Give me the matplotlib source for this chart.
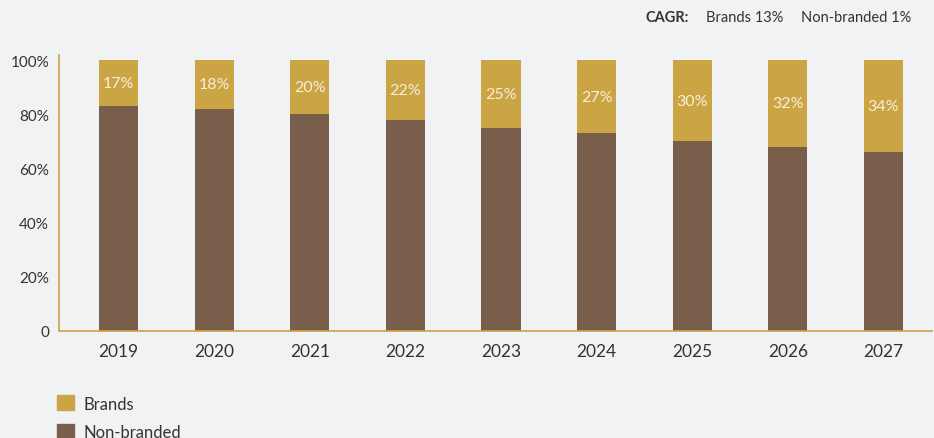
import matplotlib.pyplot as plt
from matplotlib.patches import Patch

plt.rcParams['font.family'] = ['Lato', 'DejaVu Sans']

anos = ['2019', '2020', '2021', '2022', '2023', '2024', '2025', '2026', '2027']
brands = [17, 18, 20, 22, 25, 27, 30, 32, 34]
non_branded = [83, 82, 80, 78, 75, 73, 70, 68, 66]
yticks = [0, 20, 40, 60, 80, 100]
ytick_labels = ['0', '20%', '40%', '60%', '80%', '100%']

bg = '#f1f2f4'
ouro = '#cba544'
marrom = '#785e4b'
texto = '#333333'

fig = plt.figure(figsize=(9.34, 4.39), dpi=100, facecolor=bg)
ax = fig.add_axes([0.063, 0.244, 0.935, 0.628], facecolor=bg)

x = range(len(anos))
ax.bar(x, non_branded, width=0.41, color=marrom)
ax.bar(x, brands, width=0.41, bottom=non_branded, color=ouro)

for i in x:
    ax.text(i, non_branded[i] + brands[i] / 2, '%d%%' % brands[i],
            ha='center', va='center', color='#f7eedb', fontsize=11.5)

ax.set_xlim(-0.625, 8.51)
ax.set_ylim(0, 101.8)
ax.set_xticks(list(x))
ax.set_xticklabels(anos, fontsize=12.5, color=texto)
ax.set_yticks(yticks)
ax.set_yticklabels(ytick_labels, fontsize=11, color=texto)
ax.tick_params(length=0)
ax.tick_params(axis='x', pad=9)
ax.tick_params(axis='y', pad=7)

for lado in ['top', 'right']:
    ax.spines[lado].set_visible(False)
for lado in ['left', 'bottom']:
    ax.spines[lado].set_color(ouro)
    ax.spines[lado].set_linewidth(1.2)

fig.text(0.7375, 0.958, 'CAGR:', fontsize=10.5, fontweight='bold', color=texto,
         ha='right', va='center')
fig.text(0.7555, 0.958, 'Brands 13%', fontsize=10.5, color=texto, va='center')
fig.text(0.976, 0.958, 'Non-branded 1%', fontsize=10.5, color=texto,
         ha='right', va='center')

handles = [Patch(color=ouro, label='Brands'), Patch(color=marrom, label='Non-branded')]
fig.legend(handles=handles, loc='upper left', bbox_to_anchor=(0.054, 0.112),
           frameon=False, fontsize=12, handlelength=1.0, handleheight=1.0,
           handletextpad=0.6, labelspacing=0.72, labelcolor=texto,
           borderaxespad=0)

plt.savefig('out.png', dpi=100, facecolor=bg)
